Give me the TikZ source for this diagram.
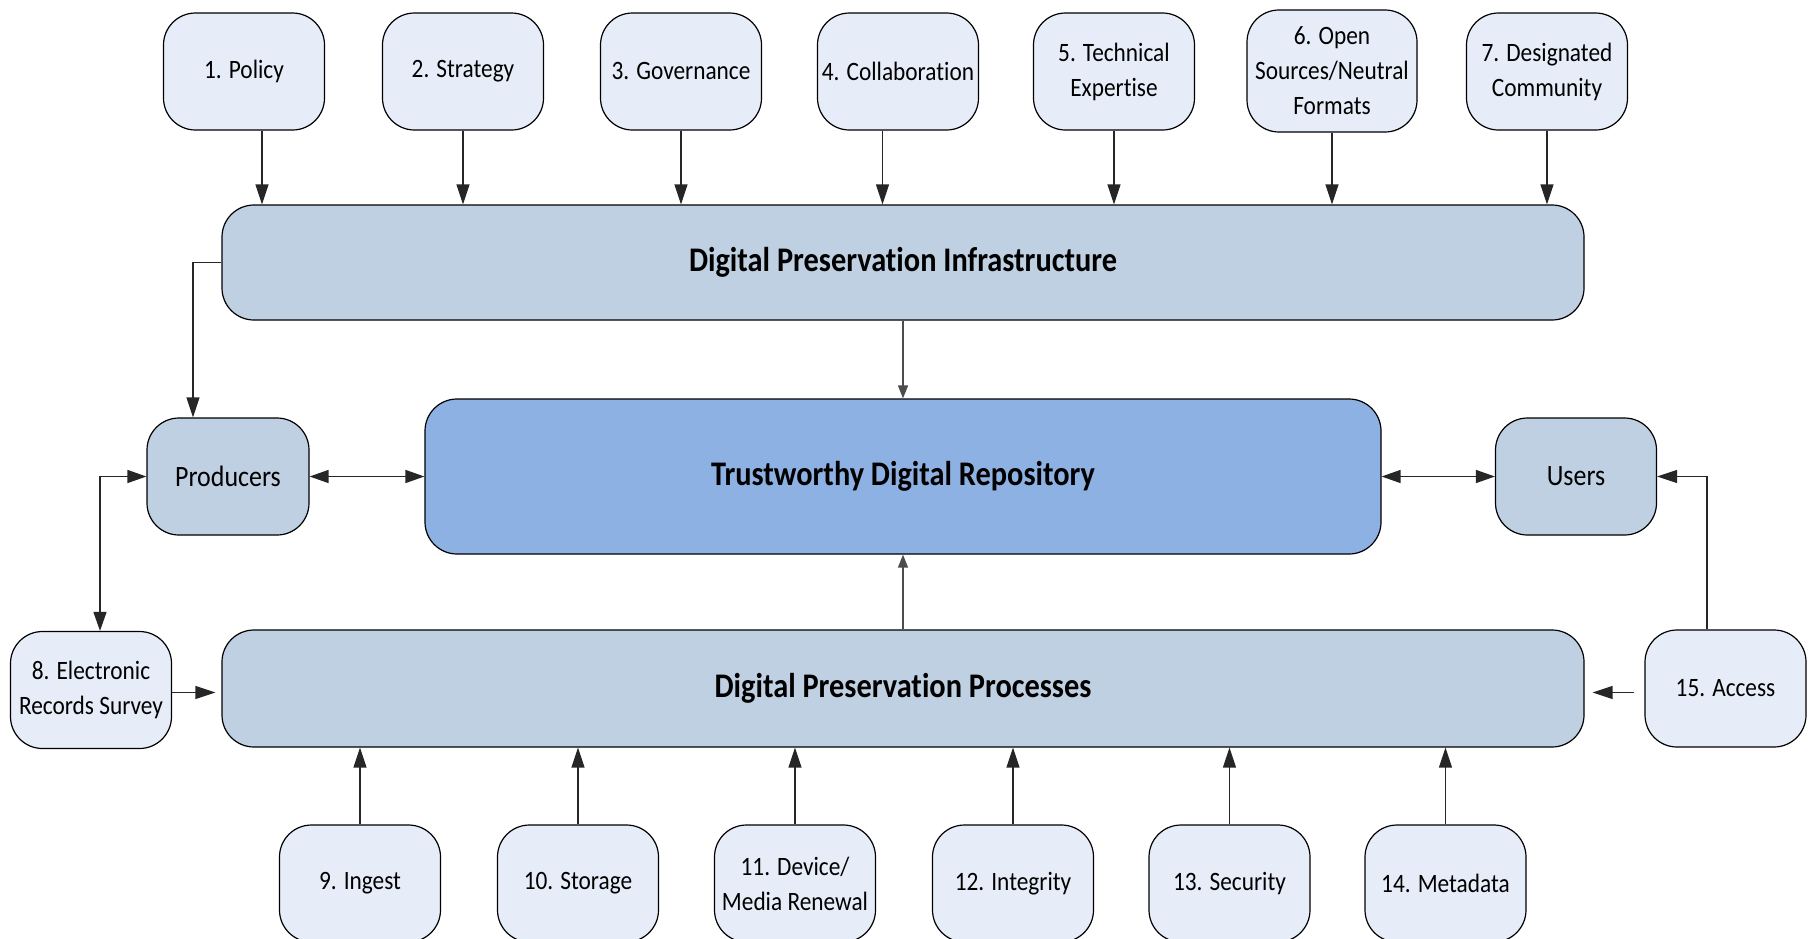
\documentclass[tikz,border=0pt]{standalone}
\usepackage{fontspec}
\setmainfont{Carlito}[FakeStretch=0.88, Ligatures={NoCommon}]
\usetikzlibrary{arrows.meta,calc}
\definecolor{lightbox}{HTML}{E6EDF8}
\definecolor{midbox}{HTML}{BFD0E3}
\definecolor{tdrbox}{HTML}{8DB1E3}
\begin{document}
\begin{tikzpicture}[x=1pt,y=-1pt,
  item/.style={draw=black, line width=1.2pt, fill=lightbox, rounded corners=32pt,
    minimum width=161pt, minimum height=117pt, inner sep=0pt, align=center,
    font=\fontsize{26.5}{35}\selectfont, anchor=center},
  hub/.style={draw=black, line width=1.2pt, fill=midbox, rounded corners=32pt,
    inner sep=0pt, align=center, anchor=center},
  bigtext/.style={font=\fontsize{34.5}{40}\selectfont\bfseries},
  midtext/.style={font=\fontsize{29.5}{36}\selectfont},
  arr/.style={draw=black!85, line width=1.3pt, -{Triangle[length=20pt,width=13pt]}},
  darr/.style={draw=black!85, line width=1.3pt, {Triangle[length=19pt,width=13pt]}-{Triangle[length=19pt,width=13pt]}},
  sarr/.style={draw=black!70, line width=1.3pt, -{Triangle[length=13pt,width=10pt]}},
]
\useasboundingbox (0,0) rectangle (1816,938);
\fill[white] (0,0) rectangle (1816,938);

% top row
\node[item] (p1) at (244,71.5) {1. Policy};
\node[item] (p2) at (463,71.5) {2. Strategy};
\node[item] (p3) at (681,71.5) {3. Governance};
\node[item] (p4) at (898,71.5) {4. Collaboration};
\node[item] (p5) at (1114,71.5) {5. Technical\\Expertise};
\node[item, minimum width=170pt, minimum height=122pt] (p6) at (1332,71) {6. Open\\Sources/Neutral\\Formats};
\node[item] (p7) at (1547,71.5) {7. Designated\\Community};

% hubs
\node[hub, minimum width=1362pt, minimum height=115pt, bigtext] (infra) at (903,262.5) {Digital Preservation Infrastructure};
\node[hub, fill=tdrbox, minimum width=956pt, minimum height=155pt, bigtext] (tdr) at (903,476.5) {Trustworthy Digital Repository};
\node[hub, minimum width=162pt, minimum height=117pt, midtext] (prod) at (228,476.5) {Producers};
\node[hub, minimum width=161pt, minimum height=117pt, midtext] (users) at (1576,476.5) {Users};
\node[hub, minimum width=1362pt, minimum height=117pt, bigtext] (proc) at (903,688.5) {Digital Preservation Processes};

\node[item] (e8) at (91,690) {8. Electronic\\Records Survey};
\node[item] (acc) at (1725.5,688.5) {15. Access};

% bottom row
\node[item] (b9) at (360,883.5) {9. Ingest};
\node[item] (b10) at (578,883.5) {10. Storage};
\node[item] (b11) at (795,883.5) {11. Device/\\Media Renewal};
\node[item] (b12) at (1013,883.5) {12. Integrity};
\node[item] (b13) at (1229.5,883.5) {13. Security};
\node[item] (b14) at (1445.5,883.5) {14. Metadata};

% top arrows
\coordinate (a1) at ([xshift=18pt]p1.south);
\coordinate (a4) at ([xshift=-15.5pt]p4.south);
\draw[arr] (a1) -- (a1 |- infra.north);
\draw[arr] (p2.south) -- (p2.south |- infra.north);
\draw[arr] (p3.south) -- (p3.south |- infra.north);
\draw[arr] (a4) -- (a4 |- infra.north);
\draw[arr] (p5.south) -- (p5.south |- infra.north);
\draw[arr] (p6.south) -- (p6.south |- infra.north);
\draw[arr] (p7.south) -- (p7.south |- infra.north);

% middle connectors
\draw[sarr] (infra.south) -- (tdr.north);
\draw[sarr] (proc.north) -- (tdr.south);
\coordinate (lc) at ([xshift=-35pt]prod.north);
\draw[arr] (infra.west) -| (lc);
\draw[darr] (prod.east) -- (tdr.west);
\draw[darr] (tdr.east) -- (users.west);
\coordinate (ec) at ([xshift=9pt]e8.north);
\draw[darr] (prod.west) -| (ec);
\coordinate (ac) at ([xshift=-18.5pt]acc.north);
\draw[arr] (ac) |- (users.east);

% side arrows into processes
\coordinate (ee) at ([yshift=-2.5pt]e8.east);
\coordinate (pw) at ([xshift=-6pt]proc.west);
\draw[arr] (ee) -- (ee -| pw);
\coordinate (aw) at ([xshift=-10pt,yshift=-4pt]acc.west);
\coordinate (pe) at ([xshift=8pt]proc.east);
\draw[arr] (aw) -- (aw -| pe);

% bottom arrows
\foreach \b in {b9,b10,b11,b12,b13,b14}
  \draw[arr] (\b.north) -- (\b.north |- proc.south);
\end{tikzpicture}
\end{document}
